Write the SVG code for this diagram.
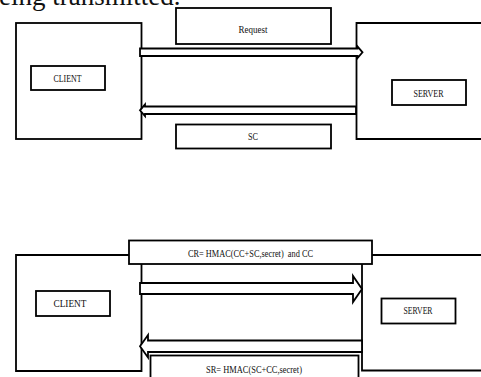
<svg xmlns="http://www.w3.org/2000/svg" width="481" height="377" viewBox="0 0 481 377">
<style>
.box{fill:#fff;stroke:#000;stroke-width:1.8}
.ln{fill:none;stroke:#000;stroke-width:1.8}
.arr{fill:#fff;stroke:#000;stroke-width:1.8;stroke-linejoin:miter}
.t{font-family:"Liberation Serif","Times New Roman",serif;font-size:11px;fill:#111;text-anchor:middle}
.hdr{font-family:"Liberation Serif","Times New Roman",serif;font-size:27px;fill:#111}
</style>
<rect width="481" height="377" fill="#fff"/>
<text class="hdr" x="-1" y="5">eing transmitted.</text>

<!-- Top diagram -->
<g id="client-top">
<rect class="box" x="16" y="23" width="125.5" height="116"/>
<rect class="box" x="31" y="66" width="74" height="24"/>
<text class="t" x="67.5" y="81.5" textLength="28" lengthAdjust="spacingAndGlyphs">CLIENT</text>
</g>
<g id="server-top">
<path class="ln" d="M482,23 H356.5 V139 H482"/>
<rect class="box" x="392" y="80" width="74" height="25"/>
<text class="t" x="428.5" y="96.5" textLength="30" lengthAdjust="spacingAndGlyphs">SERVER</text>
</g>
<g id="request">
<rect class="box" x="176" y="8" width="155" height="36"/>
<text class="t" x="253" y="32.5" textLength="29" lengthAdjust="spacingAndGlyphs">Request</text>
</g>
<g id="sc">
<rect class="box" x="176" y="124.5" width="155" height="24"/>
<text class="t" x="253" y="140" textLength="10" lengthAdjust="spacingAndGlyphs">SC</text>
</g>

<!-- Bottom diagram -->
<g id="client-bottom">
<path class="ln" d="M129,255 H16 V371 H141.5 V264"/>
<rect class="box" x="36" y="291" width="74" height="25"/>
<text class="t" x="70" y="306.5" textLength="33" lengthAdjust="spacingAndGlyphs">CLIENT</text>
</g>
<g id="server-bottom">
<path class="ln" d="M372,255 H482 M362,264 V370.5 H482"/>
<rect class="box" x="381.5" y="298.5" width="74" height="25"/>
<text class="t" x="418" y="314" textLength="29" lengthAdjust="spacingAndGlyphs">SERVER</text>
</g>
<g id="cr">
<rect class="box" x="129" y="240.5" width="243" height="23.5"/>
<text class="t" x="250.5" y="257" textLength="125" lengthAdjust="spacingAndGlyphs" xml:space="preserve">CR= HMAC(CC+SC,secret)  and CC</text>
</g>
<g id="sr">
<rect class="box" x="150.5" y="355.5" width="208" height="30"/>
<text class="t" x="254" y="372.5" textLength="96" lengthAdjust="spacingAndGlyphs">SR= HMAC(SC+CC,secret)</text>
</g>

<g id="connectors">
<polygon class="arr" points="140,48.5 357.5,48.5 357.5,46.5 362.5,52.3 357.5,58 357.5,56 140,56"/>
<polygon class="arr" points="356,106.5 145,106.5 145,104.5 140,110.3 145,116 145,114 356,114"/>
<polygon class="arr" points="140,283 353,283 353,276 362,289 353,302 353,294 140,294"/>
<polygon class="arr" points="362,340.5 148,340.5 148,335 140,346.3 148,357.5 148,352 362,352"/>
</g>
</svg>
